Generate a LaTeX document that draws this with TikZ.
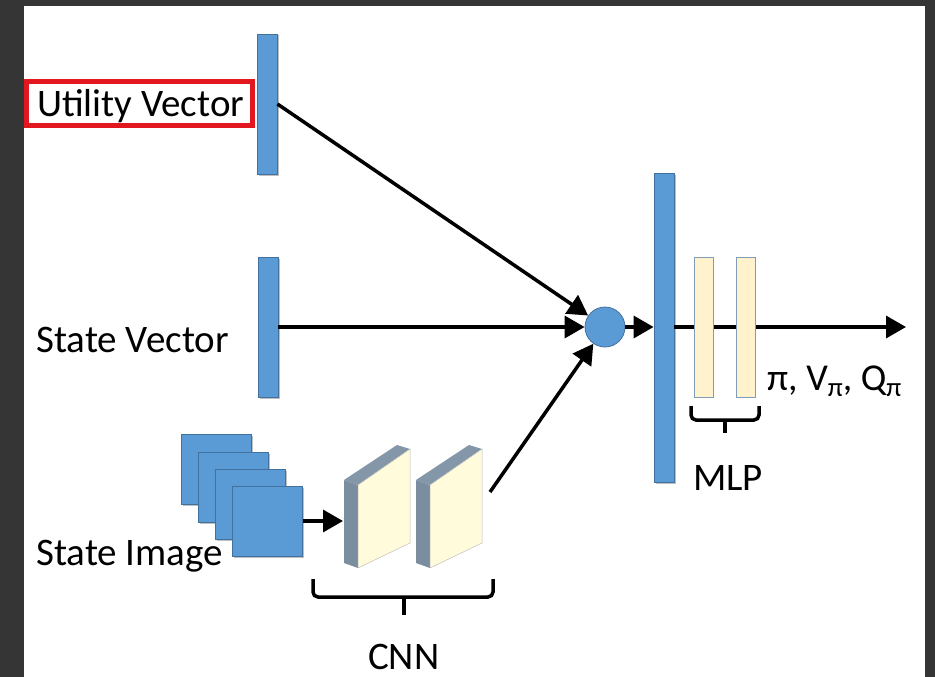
\documentclass[tikz,border=0pt]{standalone}
\usepackage{fontspec}
\setmainfont{Carlito}
\usetikzlibrary{arrows.meta,shadows}
\definecolor{bgdark}{HTML}{353535}
\definecolor{barblue}{HTML}{5B9BD5}
\definecolor{barline}{HTML}{41719C}
\definecolor{mlpfill}{HTML}{FFF2CC}
\definecolor{mlpline}{HTML}{7F9DB9}
\definecolor{slabfront}{HTML}{FFFBDB}
\definecolor{slabside}{HTML}{7A8EA0}
\definecolor{slabtop}{HTML}{8397A8}
\definecolor{redbox}{HTML}{E3171F}
\begin{document}
\begin{tikzpicture}[x=1pt,y=-1pt,
  bar/.style={rectangle, draw=barline, fill=barblue, line width=0.8pt, inner sep=0pt,
    minimum width=20pt, drop shadow={shadow xshift=1.5pt, shadow yshift=-1.5pt, opacity=0.25, fill=black}},
  sq/.style={rectangle, draw=barline, fill=barblue, line width=0.8pt, inner sep=0pt,
    minimum size=70pt, drop shadow={shadow xshift=1.5pt, shadow yshift=-1.5pt, opacity=0.25, fill=black}},
  mlpbar/.style={rectangle, draw=mlpline, fill=mlpfill, line width=0.8pt, inner sep=0pt,
    minimum width=19pt, minimum height=140pt},
  arr/.style={line width=3.5pt, -{Triangle[length=20pt,width=22pt]}},
  lbl/.style={font=\fontsize{39}{45}\selectfont, inner sep=0pt, anchor=base west},
  bracepath/.style={line width=3.5pt, rounded corners=5pt},
  slabf/.style={fill=slabfront, draw=black!25, line width=0.5pt},
  slabs/.style={fill=slabside},
  slabt/.style={fill=slabtop}
]
\fill[bgdark] (0,0) rectangle (935,677);
\fill[white] (24,6) rectangle (925,677);
\useasboundingbox (0,0) rectangle (935,677);

% labels
\node[lbl] (tu) at (37,117) {Utility Vector};
\draw[redbox, line width=5pt] (26.5,81.5) rectangle (252.5,125.5);
\node[lbl] (ts) at (36,352) {State Vector};
\node[lbl] (ti) at (36,565) {State Image};
\node[lbl] (tc) at (368,669) {CNN};
\node[lbl] (tm) at (693,490) {MLP};
\node[lbl, font=\fontsize{38}{44}\selectfont] (tp) at (767,390)
  {π, V\raisebox{-0.35ex}{\fontsize{27}{30}\selectfont π}, Q\raisebox{-0.35ex}{\fontsize{27}{30}\selectfont π}};

% vectors
\node[bar, minimum height=140pt] (ub) at (267,104) {};
\node[bar, minimum height=140pt] (sb) at (268,327) {};
\node[bar, minimum height=309pt] (bb) at (664,327.5) {};
\node[circle, draw=barline, fill=barblue, line width=0.8pt, minimum size=40pt, inner sep=0pt] (c) at (605,327) {};

% image stack
\node[sq] (q1) at (216,469) {};
\node[sq] (q2) at (233,487) {};
\node[sq] (q3) at (250,504) {};
\node[sq] (q4) at (267.5,521) {};

% CNN slabs
\foreach \dx in {0,72}{
  \begin{scope}[xshift=\dx]
    \fill[slabs] (344,480) -- (358,485) -- (358,568) -- (344,563) -- cycle;
    \fill[slabt] (344,480) -- (397,445) -- (410,449) -- (358,485) -- cycle;
    \draw[slabf] (358,485) -- (410,449) -- (410,543) -- (358,568) -- cycle;
  \end{scope}
}
\coordinate (s1in) at (343,521);
\coordinate (cnnout) at (490,492);
\coordinate (out) at (906,327);

% connectors
\draw[arr] (ub.east) -- (c);
\draw[arr] (sb.east) -- (c);
\draw[arr] (cnnout) -- (c);
\draw[arr] (q4.east |- s1in) -- (s1in);
\draw[arr] (c.east) -- (c -| bb.west);
\draw[arr] (bb.east |- c) -- (out);

% MLP bars
\node[mlpbar] (m1) at (703.5,327) {};
\node[mlpbar] (m2) at (746,327) {};

% braces
\draw[bracepath] (313,579) -- (313,597) -- (493,597) -- (493,579);
\draw[line width=3.5pt] (404,597) -- (404,615);
\draw[bracepath] (691,406) -- (691,420) -- (759,420) -- (759,406);
\draw[line width=3.5pt] (725,420) -- (725,433);
\end{tikzpicture}
\end{document}
